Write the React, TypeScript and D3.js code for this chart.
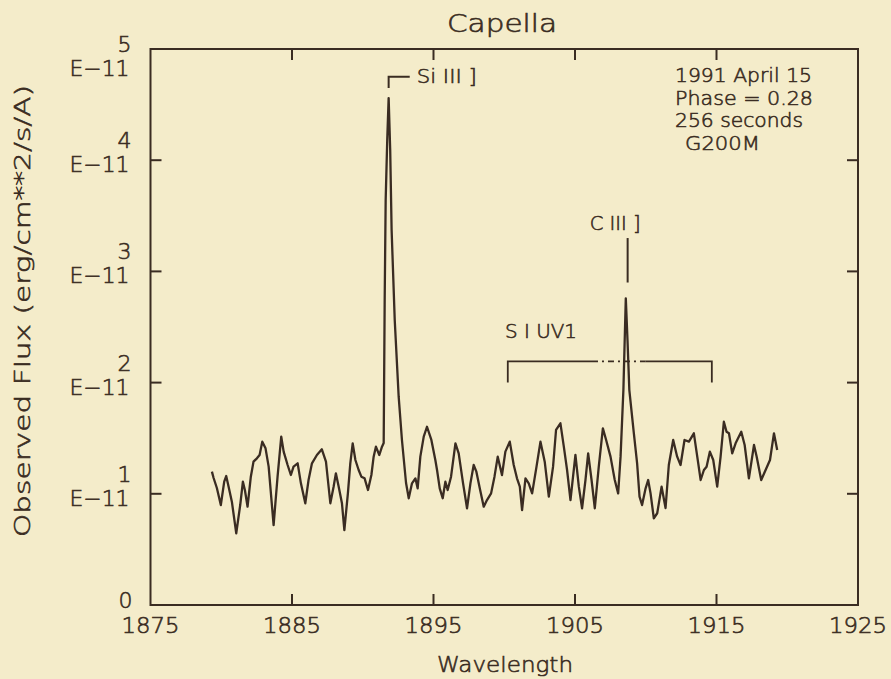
import React from "react";
import * as d3 from "d3";

// Spectrum: wavelength (Å) and observed flux (units of 1e-11 erg/cm^2/s/A)
const wavelength = [
  1879.34, 1879.46, 1879.69, 1879.97, 1880.21, 1880.35, 1880.52, 1880.75, 1881.06, 1881.34,
  1881.53, 1881.67, 1881.86, 1882.09, 1882.28, 1882.52, 1882.71, 1882.90, 1883.13, 1883.35,
  1883.70, 1883.98, 1884.24, 1884.41, 1884.69, 1884.92, 1885.11, 1885.40, 1885.63, 1885.94,
  1886.17, 1886.41, 1886.76, 1887.11, 1887.40, 1887.71, 1887.94, 1888.10, 1888.30, 1888.53,
  1888.70, 1888.95, 1889.12, 1889.29, 1889.48, 1889.71, 1889.90, 1890.13, 1890.37, 1890.61,
  1890.77, 1890.93, 1891.17, 1891.36, 1891.48, 1891.55, 1891.62, 1891.73, 1891.83, 1891.94,
  1892.04, 1892.26, 1892.54, 1892.77, 1893.06, 1893.25, 1893.48, 1893.72, 1893.88, 1894.07,
  1894.31, 1894.54, 1894.85, 1895.13, 1895.25, 1895.44, 1895.65, 1895.84, 1896.00, 1896.24,
  1896.55, 1896.78, 1897.09, 1897.37, 1897.61, 1897.84, 1898.03, 1898.27, 1898.55, 1898.78,
  1899.07, 1899.31, 1899.54, 1899.84, 1900.08, 1900.39, 1900.67, 1900.90, 1901.10, 1901.26,
  1901.50, 1901.73, 1901.97, 1902.28, 1902.56, 1902.86, 1903.15, 1903.45, 1903.66, 1903.97,
  1904.21, 1904.44, 1904.68, 1905.03, 1905.27, 1905.50, 1905.74, 1905.93, 1906.17, 1906.40,
  1906.68, 1906.97, 1907.20, 1907.51, 1907.81, 1908.05, 1908.22, 1908.42, 1908.59, 1908.71,
  1908.84, 1909.16, 1909.39, 1909.56, 1909.74, 1909.99, 1910.17, 1910.34, 1910.57, 1910.81,
  1911.12, 1911.40, 1911.63, 1911.94, 1912.22, 1912.46, 1912.74, 1913.05, 1913.40, 1913.64,
  1913.88, 1914.11, 1914.30, 1914.53, 1914.77, 1915.05, 1915.29, 1915.52, 1915.71, 1915.88,
  1916.11, 1916.35, 1916.75, 1916.99, 1917.29, 1917.65, 1917.84, 1918.16, 1918.47, 1918.78,
  1919.06, 1919.29,
];
const flux = [
  1.199, 1.142, 1.052, 0.899, 1.109, 1.160, 1.064, 0.929, 0.645, 0.899,
  1.109, 1.034, 0.884, 1.154, 1.289, 1.319, 1.349, 1.469, 1.409, 1.244,
  0.719, 1.154, 1.514, 1.379, 1.259, 1.169, 1.244, 1.274, 1.094, 0.915,
  1.124, 1.274, 1.349, 1.400, 1.289, 0.915, 1.064, 1.184, 1.064, 0.915,
  0.674, 1.004, 1.274, 1.454, 1.304, 1.214, 1.154, 1.139, 1.034, 1.169,
  1.334, 1.424, 1.349, 1.424, 1.457, 2.743, 3.642, 4.182, 4.559, 4.092,
  3.372, 2.563, 1.871, 1.484, 1.097, 0.960, 1.094, 1.139, 1.049, 1.334,
  1.514, 1.603, 1.484, 1.304, 1.214, 1.049, 0.960, 1.109, 1.034, 1.154,
  1.454, 1.364, 1.094, 0.870, 1.094, 1.259, 1.199, 1.049, 0.884, 0.944,
  1.004, 1.154, 1.334, 1.169, 1.379, 1.469, 1.259, 1.139, 1.064, 0.854,
  1.139, 1.094, 1.004, 1.244, 1.469, 1.289, 0.974, 1.244, 1.574, 1.634,
  1.424, 1.214, 0.944, 1.349, 1.064, 0.870, 1.124, 1.364, 1.124, 0.870,
  1.244, 1.589, 1.484, 1.334, 1.124, 1.004, 1.334, 1.933, 2.758, 2.383,
  1.933, 1.544, 1.274, 0.974, 0.899, 1.049, 1.124, 1.004, 0.780, 0.825,
  1.064, 0.872, 1.259, 1.484, 1.334, 1.259, 1.484, 1.469, 1.544, 1.334,
  1.124, 1.214, 1.244, 1.379, 1.304, 1.064, 1.334, 1.648, 1.558, 1.544,
  1.364, 1.454, 1.558, 1.439, 1.139, 1.439, 1.334, 1.124, 1.214, 1.304,
  1.544, 1.394,
];

const xTicks = [1875, 1885, 1895, 1905, 1915, 1925];
const yTicks = [0, 1, 2, 3, 4, 5];
const yTickExp = "E\u221211";

const title = "Capella";
const xLabel = "Wavelength";
const yLabel = "Observed Flux (erg/cm**2/s/A)";
const infoLines = ["1991 April 15", "Phase = 0.28", "256 seconds", "G200M"];

// line identifications (wavelengths)
const siIII = { label: "Si III ]", wl: 1891.83, barEnd: 1893.32, top: 4.75, bottom: 4.65 };
const cIII = { label: "C III ]", wl: 1908.72, top: 3.3, bottom: 2.9 };
const sIUV1 = { label: "S I UV1", wl1: 1900.25, wl2: 1914.67, dashFrom: 1906.2, dashTo: 1910.0, level: 2.19, leg: 2.0 };

const W = 891;
const H = 679;
const BG = "#f4ecca";
const INK = "#3a2c22";
const FONT = "'DejaVu Sans', 'Liberation Sans', sans-serif";

export default function App() {
  const x = d3.scaleLinear().domain([1875, 1925]).range([150.5, 858]);
  const y = d3.scaleLinear().domain([0, 5]).range([605, 49]);
  const pts = wavelength.map((w, i) => [w, flux[i]] as [number, number]);
  const line = d3.line<[number, number]>().x((d) => x(d[0])).y((d) => y(d[1]));

  const x0 = x(1875), x1 = x(1925), y0 = y(0), y1 = y(5);
  const tickLen = 11;
  const tp = { fill: INK, fontWeight: 200, stroke: INK, strokeWidth: 0.6 } as const;

  return (
    <svg width={W} height={H} style={{ position: "absolute", left: 0, top: 0, background: BG }}
      fontFamily={FONT}>
      <rect x={0} y={0} width={W} height={H} fill={BG} />
      {/* frame */}
      <rect x={x0} y={y1} width={x1 - x0} height={y0 - y1} fill="none" stroke={INK} strokeWidth={2} />
      {/* x ticks, bottom and top, inward */}
      {xTicks.slice(1, -1).map((t) => (
        <g key={"xt" + t}>
          <line x1={x(t)} x2={x(t)} y1={y0} y2={y0 - tickLen} stroke={INK} strokeWidth={2} />
          <line x1={x(t)} x2={x(t)} y1={y1} y2={y1 + tickLen} stroke={INK} strokeWidth={2} />
        </g>
      ))}
      {/* y ticks left and right, inward */}
      {yTicks.slice(1, -1).map((t) => (
        <g key={"yt" + t}>
          <line x1={x0} x2={x0 + tickLen} y1={y(t)} y2={y(t)} stroke={INK} strokeWidth={2} />
          <line x1={x1} x2={x1 - tickLen} y1={y(t)} y2={y(t)} stroke={INK} strokeWidth={2} />
        </g>
      ))}
      {/* x tick labels */}
      {xTicks.map((t) => (
        <text key={"xl" + t} x={x(t)} y={633} textAnchor="middle" fontSize={22} {...tp}
          textLength={58} lengthAdjust="spacingAndGlyphs">{t}</text>
      ))}
      {/* y tick labels */}
      {yTicks.map((t) => {
        const yy = y(t);
        if (t === 0) {
          return (
            <text key={"yl" + t} x={x0 - 18} y={yy + 3} textAnchor="end" fontSize={22} {...tp}>{t}</text>
          );
        }
        const shift = t === 5 ? 15 : 0;
        return (
          <g key={"yl" + t}>
            <text x={x0 - 19} y={yy - 12 + shift} textAnchor="end" fontSize={22} {...tp}>{t}</text>
            <text x={x0 - 21} y={yy + 12 + shift} textAnchor="end" fontSize={22} {...tp}
              textLength={60} lengthAdjust="spacingAndGlyphs">{yTickExp}</text>
          </g>
        );
      })}
      {/* title and axis labels */}
      <text x={502} y={32} textAnchor="middle" fontSize={24} {...tp} textLength={110}
        lengthAdjust="spacingAndGlyphs">{title}</text>
      <text x={505} y={672} textAnchor="middle" fontSize={22} {...tp} textLength={136}
        lengthAdjust="spacingAndGlyphs">{xLabel}</text>
      <text transform="translate(30,311) rotate(-90)" textAnchor="middle" fontSize={22} {...tp}
        textLength={452} lengthAdjust="spacingAndGlyphs">{yLabel}</text>
      {/* info block */}
      {infoLines.map((s, i) => (
        <text key={"info" + i} x={i === 3 ? 685 : 675} y={82 + i * 22.7} fontSize={20} {...tp}
          textLength={[137, 138, 128, 75][i]} lengthAdjust="spacingAndGlyphs">{s}</text>
      ))}
      {/* spectrum */}
      <path d={line(pts) || ""} fill="none" stroke={INK} strokeWidth={2.3} strokeLinejoin="round" />
      {/* Si III ] marker */}
      <path d={`M${x(siIII.wl)},${y(siIII.bottom)}V${y(siIII.top)}H${x(siIII.barEnd)}`} fill="none"
        stroke={INK} strokeWidth={2} />
      <text x={x(siIII.barEnd) + 7} y={83} fontSize={20} {...tp} textLength={60}
        lengthAdjust="spacingAndGlyphs">{siIII.label}</text>
      {/* C III ] marker */}
      <line x1={x(cIII.wl)} x2={x(cIII.wl)} y1={y(cIII.top)} y2={y(cIII.bottom)} stroke={INK} strokeWidth={2} />
      <text x={x(cIII.wl) - 38} y={230} fontSize={20} {...tp} textLength={51}
        lengthAdjust="spacingAndGlyphs">{cIII.label}</text>
      {/* S I UV1 bracket */}
      <path d={`M${x(sIUV1.wl1)},${y(sIUV1.leg)}V${y(sIUV1.level)}H${x(sIUV1.dashFrom)}`} fill="none"
        stroke={INK} strokeWidth={1.8} />
      <line x1={x(sIUV1.dashFrom)} x2={x(sIUV1.dashTo)} y1={y(sIUV1.level)} y2={y(sIUV1.level)}
        stroke={INK} strokeWidth={1.8} strokeDasharray="6,4,2,4" />
      <path d={`M${x(sIUV1.dashTo)},${y(sIUV1.level)}H${x(sIUV1.wl2)}V${y(sIUV1.leg)}`} fill="none"
        stroke={INK} strokeWidth={1.8} />
      <text x={505} y={338} fontSize={20} {...tp} textLength={72}
        lengthAdjust="spacingAndGlyphs">{sIUV1.label}</text>
    </svg>
  );
}
